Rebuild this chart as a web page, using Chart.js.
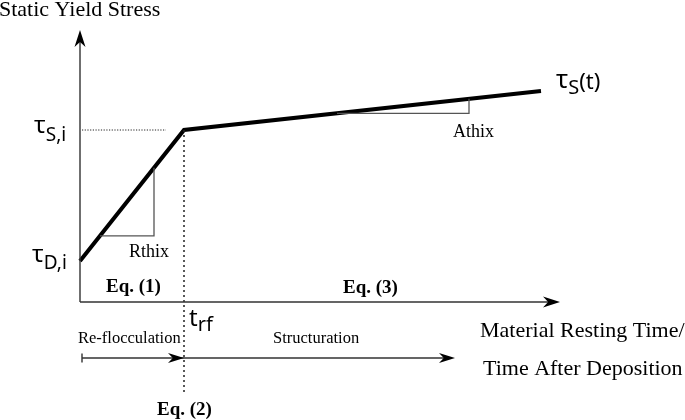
<!DOCTYPE html>
<html>
<head>
<meta charset="utf-8">
<script src="https://cdn.jsdelivr.net/npm/chart.js@4/dist/chart.umd.min.js"></script>
<style>
  html, body { margin: 0; padding: 0; background: #fff; }
  canvas { display: block; }
</style>
</head>
<body>
<canvas id="c" width="685" height="420"></canvas>
<script>
// ---- data (conceptual units) ----
const phaseTimes = [0, 10.4, 46.1];        // t = 0, t_rf, end of plot
const yieldStress = [4.1, 17.2, 21.1];     // tau_D,i, tau_S,i, tau_S(t_end)
const tickLabels = ['τD,i', 'τS,i'];
const rthixRun = [2.0, 7.4];               // slope triangle extent (time)
const athixRun = [25.7, 38.9];
const axisEnd = [48, 27.2];                // x arrow tip, y arrow tip
const processEnd = 37.5;                   // end of "Structuration" arrow
const guideBottom = -9.3;                  // bottom of t_rf dotted line
const guideLeft = [0.2, 8.6];              // tau_S,i dotted guide

function onLine(t) {
  for (let i = 0; i < phaseTimes.length - 1; i++) {
    const a = phaseTimes[i], b = phaseTimes[i + 1];
    if (t >= a && t <= b) {
      return yieldStress[i] + (yieldStress[i + 1] - yieldStress[i]) * (t - a) / (b - a);
    }
  }
  return yieldStress[yieldStress.length - 1];
}
function tri(run) {
  return [
    { x: run[0], y: onLine(run[0]) },
    { x: run[1], y: onLine(run[0]) },
    { x: run[1], y: onLine(run[1]) }
  ];
}

const serif = '"Liberation Serif", "Times New Roman", serif';
const sans = '"Noto Sans", "Open Sans", sans-serif';

function arrowHead(ctx, x, y, dir, len, half) {
  ctx.beginPath();
  if (dir === 'right') {
    ctx.moveTo(x, y);
    ctx.lineTo(x - len, y - half);
    ctx.lineTo(x - len * 0.7, y);
    ctx.lineTo(x - len, y + half);
  } else {
    ctx.moveTo(x, y);
    ctx.lineTo(x - half, y + len);
    ctx.lineTo(x, y + len * 0.7);
    ctx.lineTo(x + half, y + len);
  }
  ctx.closePath();
  ctx.fill();
}

function subText(ctx, x, y, main, sub, mainSize, subSize, subDy, font, extra, extraSize, extraDy) {
  ctx.font = mainSize + 'px ' + font;
  ctx.fillText(main, x, y);
  let w = ctx.measureText(main).width;
  ctx.font = subSize + 'px ' + font;
  ctx.fillText(sub, x + w, y + subDy);
  if (extra) {
    const w2 = ctx.measureText(sub).width;
    ctx.font = extraSize + 'px ' + font;
    ctx.fillText(extra, x + w + w2, y + extraDy);
  }
}

const decor = {
  id: 'decor',
  afterDatasetsDraw(chart) {
    const ctx = chart.ctx;
    const xs = chart.scales.x, ys = chart.scales.y;
    const px = v => xs.getPixelForValue(v);
    const py = v => ys.getPixelForValue(v);
    const x0 = px(0), y0 = py(0);
    ctx.save();
    // axes
    ctx.strokeStyle = '#333';
    ctx.fillStyle = '#000';
    ctx.lineWidth = 1.4;
    ctx.beginPath();
    ctx.moveTo(x0, y0);
    ctx.lineTo(x0, py(axisEnd[1]) + 10);
    ctx.moveTo(x0, y0);
    ctx.lineTo(px(axisEnd[0]) - 10, y0);
    ctx.stroke();
    arrowHead(ctx, x0, py(axisEnd[1]), 'up', 17, 5.5);
    arrowHead(ctx, px(axisEnd[0]), y0, 'right', 17, 5.5);

    // process arrows
    const ya = y0 + 56;
    ctx.beginPath();
    ctx.moveTo(px(0.2), ya);
    ctx.lineTo(px(processEnd) - 8, ya);
    ctx.moveTo(px(0.2), ya - 4.5);
    ctx.lineTo(px(0.2), ya + 4.5);
    ctx.stroke();
    arrowHead(ctx, px(phaseTimes[1]), ya, 'right', 16, 5);
    arrowHead(ctx, px(processEnd), ya, 'right', 16, 5);

    // texts
    ctx.fillStyle = '#000';
    ctx.textBaseline = 'alphabetic';
    ctx.textAlign = 'left';
    ctx.font = '22px ' + serif;
    ctx.fillText('Static Yield Stress', -1, 16);

    subText(ctx, 34, py(yieldStress[1]) + 3, tickLabels[1].charAt(0), tickLabels[1].slice(1), 24, 19, 8, sans);
    subText(ctx, 32, py(yieldStress[0]) + 1, tickLabels[0].charAt(0), tickLabels[0].slice(1), 24, 19, 7, sans);
    subText(ctx, 556, py(yieldStress[2]) - 3, 'τ', 'S', 25, 20, 6, sans, '(t)', 22, 1);
    subText(ctx, px(phaseTimes[1]) + 5, y0 + 24, 't', 'rf', 24, 20, 5, sans);

    ctx.font = '18px ' + serif;
    ctx.fillText('Rthix', 129, 257);
    ctx.fillText('Athix', 453, 137);

    ctx.font = 'bold 19px ' + serif;
    ctx.fillText('Eq. (1)', 106, 292);
    ctx.fillText('Eq. (3)', 343, 293);
    ctx.fillText('Eq. (2)', 157, 415);

    ctx.font = '16.5px ' + serif;
    ctx.fillText('Re-flocculation', 78, 343);
    ctx.fillText('Structuration', 273, 343);

    ctx.font = '22px ' + serif;
    ctx.fillText('Material Resting Time/', 480, 337);
    ctx.fillText('Time After Deposition', 483, 375);
    ctx.restore();
  }
};

new Chart(document.getElementById('c'), {
  type: 'scatter',
  data: {
    datasets: [
      {
        data: tri(rthixRun), showLine: true, borderColor: '#555', borderWidth: 1.3,
        pointRadius: 0, fill: false, tension: 0
      },
      {
        data: tri(athixRun), showLine: true, borderColor: '#555', borderWidth: 1.3,
        pointRadius: 0, fill: false, tension: 0
      },
      {
        data: [{ x: guideLeft[0], y: yieldStress[1] }, { x: guideLeft[1], y: yieldStress[1] }],
        showLine: true, borderColor: '#222', borderWidth: 1, borderDash: [1.2, 1.5],
        pointRadius: 0
      },
      {
        data: [{ x: phaseTimes[1], y: yieldStress[1] }, { x: phaseTimes[1], y: guideBottom }],
        showLine: true, borderColor: '#222', borderWidth: 1.5, borderDash: [2, 3],
        pointRadius: 0
      },
      {
        data: phaseTimes.map((t, i) => ({ x: t, y: yieldStress[i] })),
        showLine: true, borderColor: '#000', borderWidth: 4, pointRadius: 0,
        tension: 0, borderJoinStyle: 'miter', borderCapStyle: 'butt'
      }
    ]
  },
  options: {
    responsive: false,
    animation: false,
    layout: { padding: 0 },
    plugins: { legend: { display: false }, tooltip: { enabled: false } },
    scales: {
      x: { type: 'linear', display: false, min: -8, max: 60.5 },
      y: { type: 'linear', display: false, min: -11.8, max: 30.2 }
    }
  },
  plugins: [decor]
});
</script>
</body>
</html>
